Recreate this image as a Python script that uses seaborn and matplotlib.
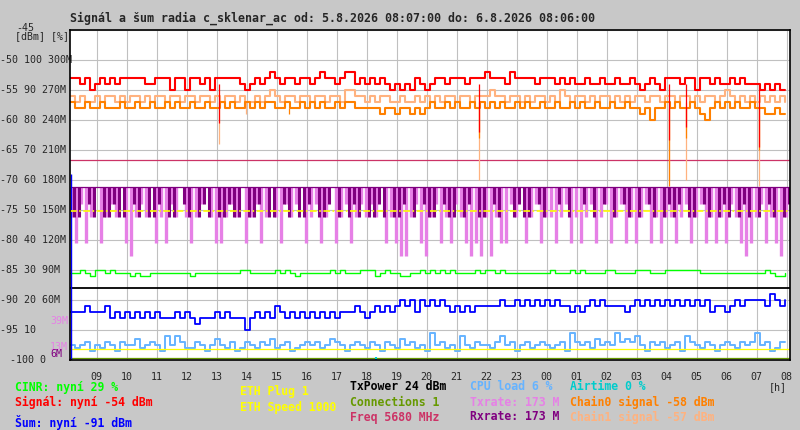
import numpy as np
import matplotlib
matplotlib.use('Agg')
import matplotlib.pyplot as plt
import matplotlib.transforms as mtrans
import seaborn as sns

# ---- data (10 minute samples from 5.8. 08:07) ----
start_h = 8 + 7 / 60
step_h = 1 / 6

signal = [-53, -53, -54, -53, -55, -54, -53, -54, -53, -54, -53, -53,
          -53, -53, -53, -54, -54, -53, -53, -53, -55, -53, -53, -55,
          -53, -53, -54, -53, -55, -53, -53, -53, -53, -53, -54, -55,
          -54, -53, -54, -53, -52, -53, -54, -53, -53, -54, -53, -53,
          -54, -53, -52, -53, -53, -54, -53, -52, -52, -54, -53, -54,
          -53, -54, -53, -54, -55, -54, -55, -54, -55, -53, -54, -55,
          -54, -53, -53, -54, -53, -53, -53, -54, -53, -53, -53, -52,
          -53, -53, -53, -54, -52, -53, -53, -53, -53, -54, -53, -53,
          -53, -54, -53, -54, -53, -54, -54, -53, -54, -54, -53, -54,
          -54, -53, -54, -54, -53, -54, -55, -54, -53, -54, -55, -53,
          -53, -53, -54, -53, -53, -55, -53, -53, -54, -53, -54, -54,
          -53, -54, -53, -54, -54, -54, -55, -54, -55, -54, -55, -55]

chain0 = [-57, -58, -58, -57, -58, -58, -57, -58, -58, -58, -57, -58,
          -58, -57, -58, -58, -57, -58, -58, -57, -58, -57, -58, -58,
          -57, -58, -58, -57, -58, -58, -57, -58, -57, -58, -58, -57,
          -58, -57, -58, -57, -57, -58, -58, -57, -58, -58, -57, -58,
          -57, -58, -57, -58, -58, -57, -58, -57, -57, -58, -58, -58,
          -58, -58, -59, -58, -58, -59, -58, -58, -59, -58, -59, -58,
          -57, -58, -58, -57, -58, -57, -58, -58, -57, -58, -57, -58,
          -57, -58, -57, -58, -58, -57, -58, -57, -58, -58, -57, -58,
          -58, -57, -58, -58, -57, -58, -57, -58, -58, -57, -58, -58,
          -57, -58, -58, -57, -58, -58, -59, -58, -60, -58, -58, -57,
          -58, -57, -58, -58, -57, -58, -59, -60, -58, -57, -58, -57,
          -58, -57, -58, -58, -57, -58, -58, -59, -59, -58, -59, -59]

chain1 = [-56, -57, -56, -57, -57, -56, -57, -56, -56, -57, -56, -57,
          -56, -56, -57, -56, -57, -56, -56, -57, -56, -56, -57, -56,
          -56, -57, -56, -56, -57, -56, -57, -56, -56, -57, -56, -57,
          -57, -56, -57, -56, -55, -56, -57, -56, -56, -57, -56, -56,
          -57, -56, -56, -57, -56, -56, -57, -55, -55, -56, -56, -57,
          -56, -57, -56, -56, -57, -57, -56, -57, -57, -56, -57, -56,
          -57, -56, -57, -56, -56, -57, -56, -56, -57, -56, -56, -56,
          -55, -56, -56, -57, -56, -56, -57, -56, -57, -56, -56, -57,
          -56, -57, -55, -56, -57, -56, -56, -57, -56, -57, -56, -56,
          -57, -56, -57, -56, -57, -56, -56, -57, -56, -56, -57, -56,
          -56, -57, -56, -56, -57, -56, -57, -56, -56, -57, -56, -55,
          -56, -57, -56, -57, -56, -57, -56, -57, -56, -57, -56, -57]

noise = [-92, -92, -92, -91, -92, -92, -92, -91, -93, -92, -93, -92,
         -93, -92, -93, -92, -93, -92, -93, -93, -93, -92, -93, -92,
         -93, -94, -93, -93, -93, -92, -93, -92, -93, -93, -93, -95,
         -93, -92, -93, -92, -93, -91, -92, -93, -92, -93, -92, -93,
         -92, -93, -92, -93, -92, -93, -92, -92, -92, -91, -92, -93,
         -92, -91, -92, -91, -92, -91, -90, -91, -90, -92, -90, -91,
         -90, -91, -90, -91, -92, -91, -92, -91, -92, -91, -91, -91,
         -91, -91, -90, -91, -91, -90, -91, -90, -91, -90, -91, -90,
         -91, -90, -91, -91, -92, -91, -92, -91, -90, -91, -90, -91,
         -91, -91, -91, -92, -91, -90, -91, -90, -91, -90, -91, -90,
         -91, -90, -91, -90, -91, -90, -91, -90, -92, -91, -91, -92,
         -91, -90, -91, -90, -90, -90, -90, -91, -89, -90, -91, -90]

cinr = [29, 29, 30, 29, 28, 30, 30, 29, 30, 29, 29, 29,
        28, 29, 28, 28, 29, 29, 29, 29, 29, 29, 29, 29,
        28, 29, 29, 29, 29, 29, 29, 29, 29, 29, 30, 30,
        29, 29, 29, 29, 29, 30, 29, 30, 29, 28, 29, 29,
        29, 29, 29, 29, 30, 29, 30, 29, 29, 29, 30, 30,
        30, 28, 29, 30, 29, 29, 28, 28, 29, 29, 30, 29,
        30, 29, 30, 29, 30, 29, 29, 29, 29, 30, 29, 30,
        30, 29, 30, 29, 29, 29, 29, 29, 29, 29, 29, 29,
        30, 29, 29, 29, 30, 29, 30, 29, 29, 29, 29, 30,
        30, 29, 29, 29, 29, 30, 30, 30, 29, 29, 29, 30,
        30, 30, 30, 30, 30, 30, 29, 29, 29, 29, 29, 29,
        29, 29, 29, 29, 29, 29, 29, 30, 29, 28, 28, 29]

cpu = [5, 4, 5, 6, 3, 5, 4, 6, 5, 3, 6, 5,
       5, 7, 4, 5, 6, 5, 3, 8, 5, 8, 6, 4,
       4, 6, 5, 3, 5, 7, 5, 4, 6, 3, 4, 6,
       5, 4, 6, 5, 7, 4, 5, 6, 3, 4, 5, 6,
       5, 6, 4, 5, 7, 6, 5, 3, 5, 6, 5, 4,
       6, 5, 3, 6, 5, 4, 7, 5, 6, 4, 5, 3,
       9, 5, 6, 4, 5, 3, 8, 5, 4, 6, 5, 5,
       4, 6, 8, 5, 6, 3, 5, 6, 4, 5, 6, 5,
       4, 5, 6, 3, 9, 6, 5, 6, 4, 7, 5, 6,
       5, 9, 6, 7, 6, 8, 5, 3, 6, 5, 6, 4,
       5, 6, 3, 8, 6, 5, 4, 6, 5, 3, 5, 6,
       5, 4, 6, 5, 6, 9, 5, 6, 3, 4, 6, 6]

# rate minima within each 10 minute slot (max is 173M everywhere)
txrate = [143, 117, 156, 117, 143, 173, 117, 143, 156, 143, 173, 117,
          104, 143, 156, 143, 173, 117, 143, 117, 156, 143, 173, 143,
          117, 143, 156, 173, 143, 117, 117, 143, 156, 143, 173, 117,
          143, 156, 117, 143, 173, 143, 117, 156, 143, 156, 173, 117,
          143, 156, 117, 143, 173, 117, 143, 156, 117, 143, 156, 143,
          156, 143, 173, 117, 143, 117, 104, 104, 143, 156, 117, 104,
          143, 156, 117, 143, 117, 156, 143, 117, 104, 117, 104, 143,
          104, 143, 117, 117, 156, 143, 173, 117, 143, 156, 117, 143,
          143, 117, 143, 156, 117, 143, 117, 143, 156, 117, 143, 156,
          117, 143, 156, 117, 143, 117, 143, 156, 117, 143, 117, 143,
          143, 117, 143, 156, 117, 143, 156, 117, 143, 117, 143, 117,
          156, 143, 117, 104, 117, 143, 156, 117, 143, 117, 104, 143]

rxrate = [143, 143, 173, 156, 143, 173, 143, 143, 156, 143, 143, 173,
          156, 143, 173, 143, 143, 156, 173, 143, 143, 173, 156, 143,
          173, 143, 156, 143, 173, 143, 143, 156, 143, 143, 173, 143,
          143, 156, 173, 143, 143, 173, 156, 143, 173, 143, 143, 156,
          173, 143, 143, 156, 173, 143, 173, 143, 156, 143, 173, 143,
          143, 156, 143, 173, 143, 143, 156, 173, 143, 173, 156, 143,
          143, 173, 156, 143, 143, 173, 143, 156, 173, 143, 143, 173,
          156, 143, 173, 173, 143, 156, 143, 143, 173, 156, 143, 173,
          173, 156, 173, 143, 173, 173, 156, 173, 143, 173, 156, 173,
          143, 173, 156, 143, 173, 143, 173, 156, 143, 173, 143, 156,
          143, 156, 173, 143, 143, 173, 156, 143, 173, 143, 156, 143,
          173, 143, 156, 143, 173, 143, 173, 156, 143, 173, 143, 156]
rate_top = 173

# short drops (hour of day, value)
signal_dip_t = [13.08, 21.75, 28.08, 28.65, 31.08]
signal_dip_v = [-60.5, -62.0, -63.3, -61.2, -64.5]
chain0_dip_t = [15.42, 21.75, 28.08, 28.65, 31.08]
chain0_dip_v = [-59.0, -63.0, -71.0, -63.0, -65.0]
chain1_dip_t = [13.08, 13.98, 21.75, 28.08, 28.65, 31.08]
chain1_dip_v = [-64.0, -59.0, -70.0, -70.0, -70.0, -71.0]
airtime_t = [18.33]
airtime_v = [1.0]

# constant lines (dBm axis positions)
freq_level = -66.67
txpower_level = -88.05
eth_speed_level = -75.17
eth_plug_level = -98.2
connections_level = -99.6

y_rows = [-50, -55, -60, -65, -70, -75, -80, -85, -90, -95, -100]
y_pct = ['100', '90', '80', '70', '60', '50', '40', '30', '20', '10', '0']
y_rate = ['300M', '270M', '240M', '210M', '180M', '150M', '120M', '90M', '60M', '', '']
hour_ticks = list(range(9, 33))
hour_labels = ['%02d' % (h % 24) for h in hour_ticks]

C_SIG = '#ff0000'
C_CH0 = '#ff8000'
C_CH1 = '#ffb27f'
C_NOISE = '#0000ff'
C_CINR = '#00ff00'
C_CPU = '#66b3ff'
C_AIR = '#00cccc'
C_TX = '#e680e6'
C_RX = '#800080'
C_ETH = '#ffff00'
C_CONN = '#669900'
C_FREQ = '#cc3366'


def pct_to_dbm(p):
    return -100 + np.asarray(p, dtype=float) / 2


def rate_to_dbm(r):
    return -100 + np.asarray(r, dtype=float) / 6


sns.set_style('white')
plt.rcParams['font.family'] = ['DejaVu Sans Mono', 'DejaVu Sans']

W, H = 800, 430
fig = plt.figure(figsize=(8, 4.3), dpi=100)
fig.patch.set_facecolor('#c8c8c8')
ax = fig.add_axes([70 / W, (H - 360) / H, 720 / W, 330 / H])
ax.set_facecolor('white')

hours = start_h + step_h * np.arange(len(signal))


def step_line(x, vals, color, lw=0.8, z=3):
    sns.lineplot(x=x, y=vals, ax=ax, color=color, linewidth=lw,
                 drawstyle='steps-post', estimator=None, sort=False,
                 legend=False, zorder=z)


# rates: in every slot the rate swings between its minimum and 173M
top = float(rate_to_dbm(rate_top))
ax.vlines(hours + step_h * 0.25, top, rate_to_dbm(txrate), colors=C_TX,
          lw=2.4, zorder=2)
ax.vlines(hours + step_h * 0.75, top, rate_to_dbm(rxrate), colors=C_RX,
          lw=2.2, zorder=2.1)
ax.axhline(top, xmin=0.003, color=C_RX, lw=0.9, zorder=2.15)

ax.axhline(freq_level, color=C_FREQ, lw=0.9, zorder=2.5)
ax.axhline(txpower_level, color='black', lw=1.3, zorder=2.5)
ax.axhline(eth_plug_level, color=C_ETH, lw=0.9, zorder=2.4)
ax.axhline(connections_level, color=C_CONN, lw=0.9, zorder=2.4)

# cpu / cinr
step_line(hours, pct_to_dbm(cpu), C_CPU, lw=1.4, z=2.3)
step_line(hours, pct_to_dbm(cinr), C_CINR, lw=1.0)

# signal family
ax.vlines(chain1_dip_t, -57, chain1_dip_v, colors=C_CH1, lw=0.9, zorder=3)
step_line(hours, chain1, C_CH1, lw=1.5, z=3)
ax.vlines(chain0_dip_t, -58, chain0_dip_v, colors=C_CH0, lw=0.9, zorder=3.1)
step_line(hours, chain0, C_CH0, lw=1.5, z=3.1)
ax.vlines(signal_dip_t, -54, signal_dip_v, colors=C_SIG, lw=0.9, zorder=3.2)
step_line(hours, signal, C_SIG, lw=1.5, z=3.2)

# noise
ax.vlines([start_h + 0.02], -100, -69, colors=C_NOISE, lw=1.0, zorder=3.3)
step_line(hours, noise, C_NOISE, lw=1.3, z=3.3)
ax.vlines(airtime_t, -100, pct_to_dbm(airtime_v), colors=C_AIR, lw=1.5, zorder=3.4)

# eth speed dash-dot on top of the rate band
ax.plot([start_h, start_h + 24], [eth_speed_level, eth_speed_level],
        color=C_ETH, lw=1.2, zorder=4, dashes=(4, 1.5, 1, 1.5))

ax.set_xlim(start_h, start_h + 24)
ax.set_ylim(-100, -45)
ax.set_xticks(hour_ticks)
ax.set_xticklabels(hour_labels, fontsize=7.2)
ax.set_yticks(list(range(-100, -44, 5)))
ax.set_yticklabels([])
ax.tick_params(axis='both', length=0)
ax.tick_params(axis='x', pad=9)
ax.grid(True, color='#c0c0c0', lw=0.8, zorder=0)
ax.set_axisbelow(True)
for s in ax.spines.values():
    s.set_color('black')
    s.set_linewidth(1.2)
    s.set_zorder(5)
ax.set_xlabel('')
ax.set_ylabel('')

# left axis labels
tr = mtrans.blended_transform_factory(fig.transFigure, ax.transData)
for v, p, r in zip(y_rows, y_pct, y_rate):
    txt = ('%d %s %s' % (v, p, r)).rstrip()
    x0 = 10 / W if v == -100 else 0.5 / W
    ax.text(x0, v, txt, transform=tr, ha='left', va='center', fontsize=7.2,
            clip_on=False)
ax.text(34 / W, -44.7, '-45', transform=tr, ha='right', va='center',
        fontsize=7.2, clip_on=False)
fig.text(15 / W, 1 - 36 / H, '[dBm] [%]', ha='left', va='center', fontsize=7.2)
ax.text(50 / W, rate_to_dbm(39), '39M', transform=tr, ha='left', va='center',
        fontsize=7.2, color=C_TX, clip_on=False)
ax.text(50 / W, rate_to_dbm(13), '13M', transform=tr, ha='left', va='center',
        fontsize=7.2, color=C_TX, clip_on=False)
ax.text(50 / W, rate_to_dbm(6), '6M', transform=tr, ha='left', va='center',
        fontsize=7.2, color=C_RX, clip_on=False)

fig.text(70 / W, 1 - 18 / H,
         'Signál a šum radia c_sklenar_ac od: 5.8.2026 08:07:00 do: 6.8.2026 08:06:00',
         ha='left', va='center', fontsize=8.4, fontweight='bold')


def legend_text(x, y, s, c):
    fig.text(x / W, 1 - y / H, s, ha='left', va='center', fontsize=8.3,
             fontweight='bold', color=c)


legend_text(15, 387, 'CINR: nyní 29 %', C_CINR)
legend_text(15, 402, 'Signál: nyní -54 dBm', C_SIG)
legend_text(15, 422, 'Šum: nyní -91 dBm', C_NOISE)
legend_text(240, 392, 'ETH Plug 1', C_ETH)
legend_text(240, 407, 'ETH Speed 1000', C_ETH)
legend_text(350, 387, 'TxPower 24 dBm', 'black')
legend_text(350, 402, 'Connections 1', C_CONN)
legend_text(350, 417, 'Freq 5680 MHz', C_FREQ)
legend_text(470, 387, 'CPU load 6 %', C_CPU)
legend_text(470, 402, 'Txrate: 173 M', C_TX)
legend_text(470, 417, 'Rxrate: 173 M', C_RX)
legend_text(570, 387, 'Airtime 0 %', C_AIR)
legend_text(570, 402, 'Chain0 signal -58 dBm', C_CH0)
legend_text(570, 417, 'Chain1 signal -57 dBm', C_CH1)
fig.text(769 / W, 1 - 387 / H, '[h]', ha='left', va='center', fontsize=7.2)

fig.savefig('out.png', dpi=100, facecolor=fig.get_facecolor())
